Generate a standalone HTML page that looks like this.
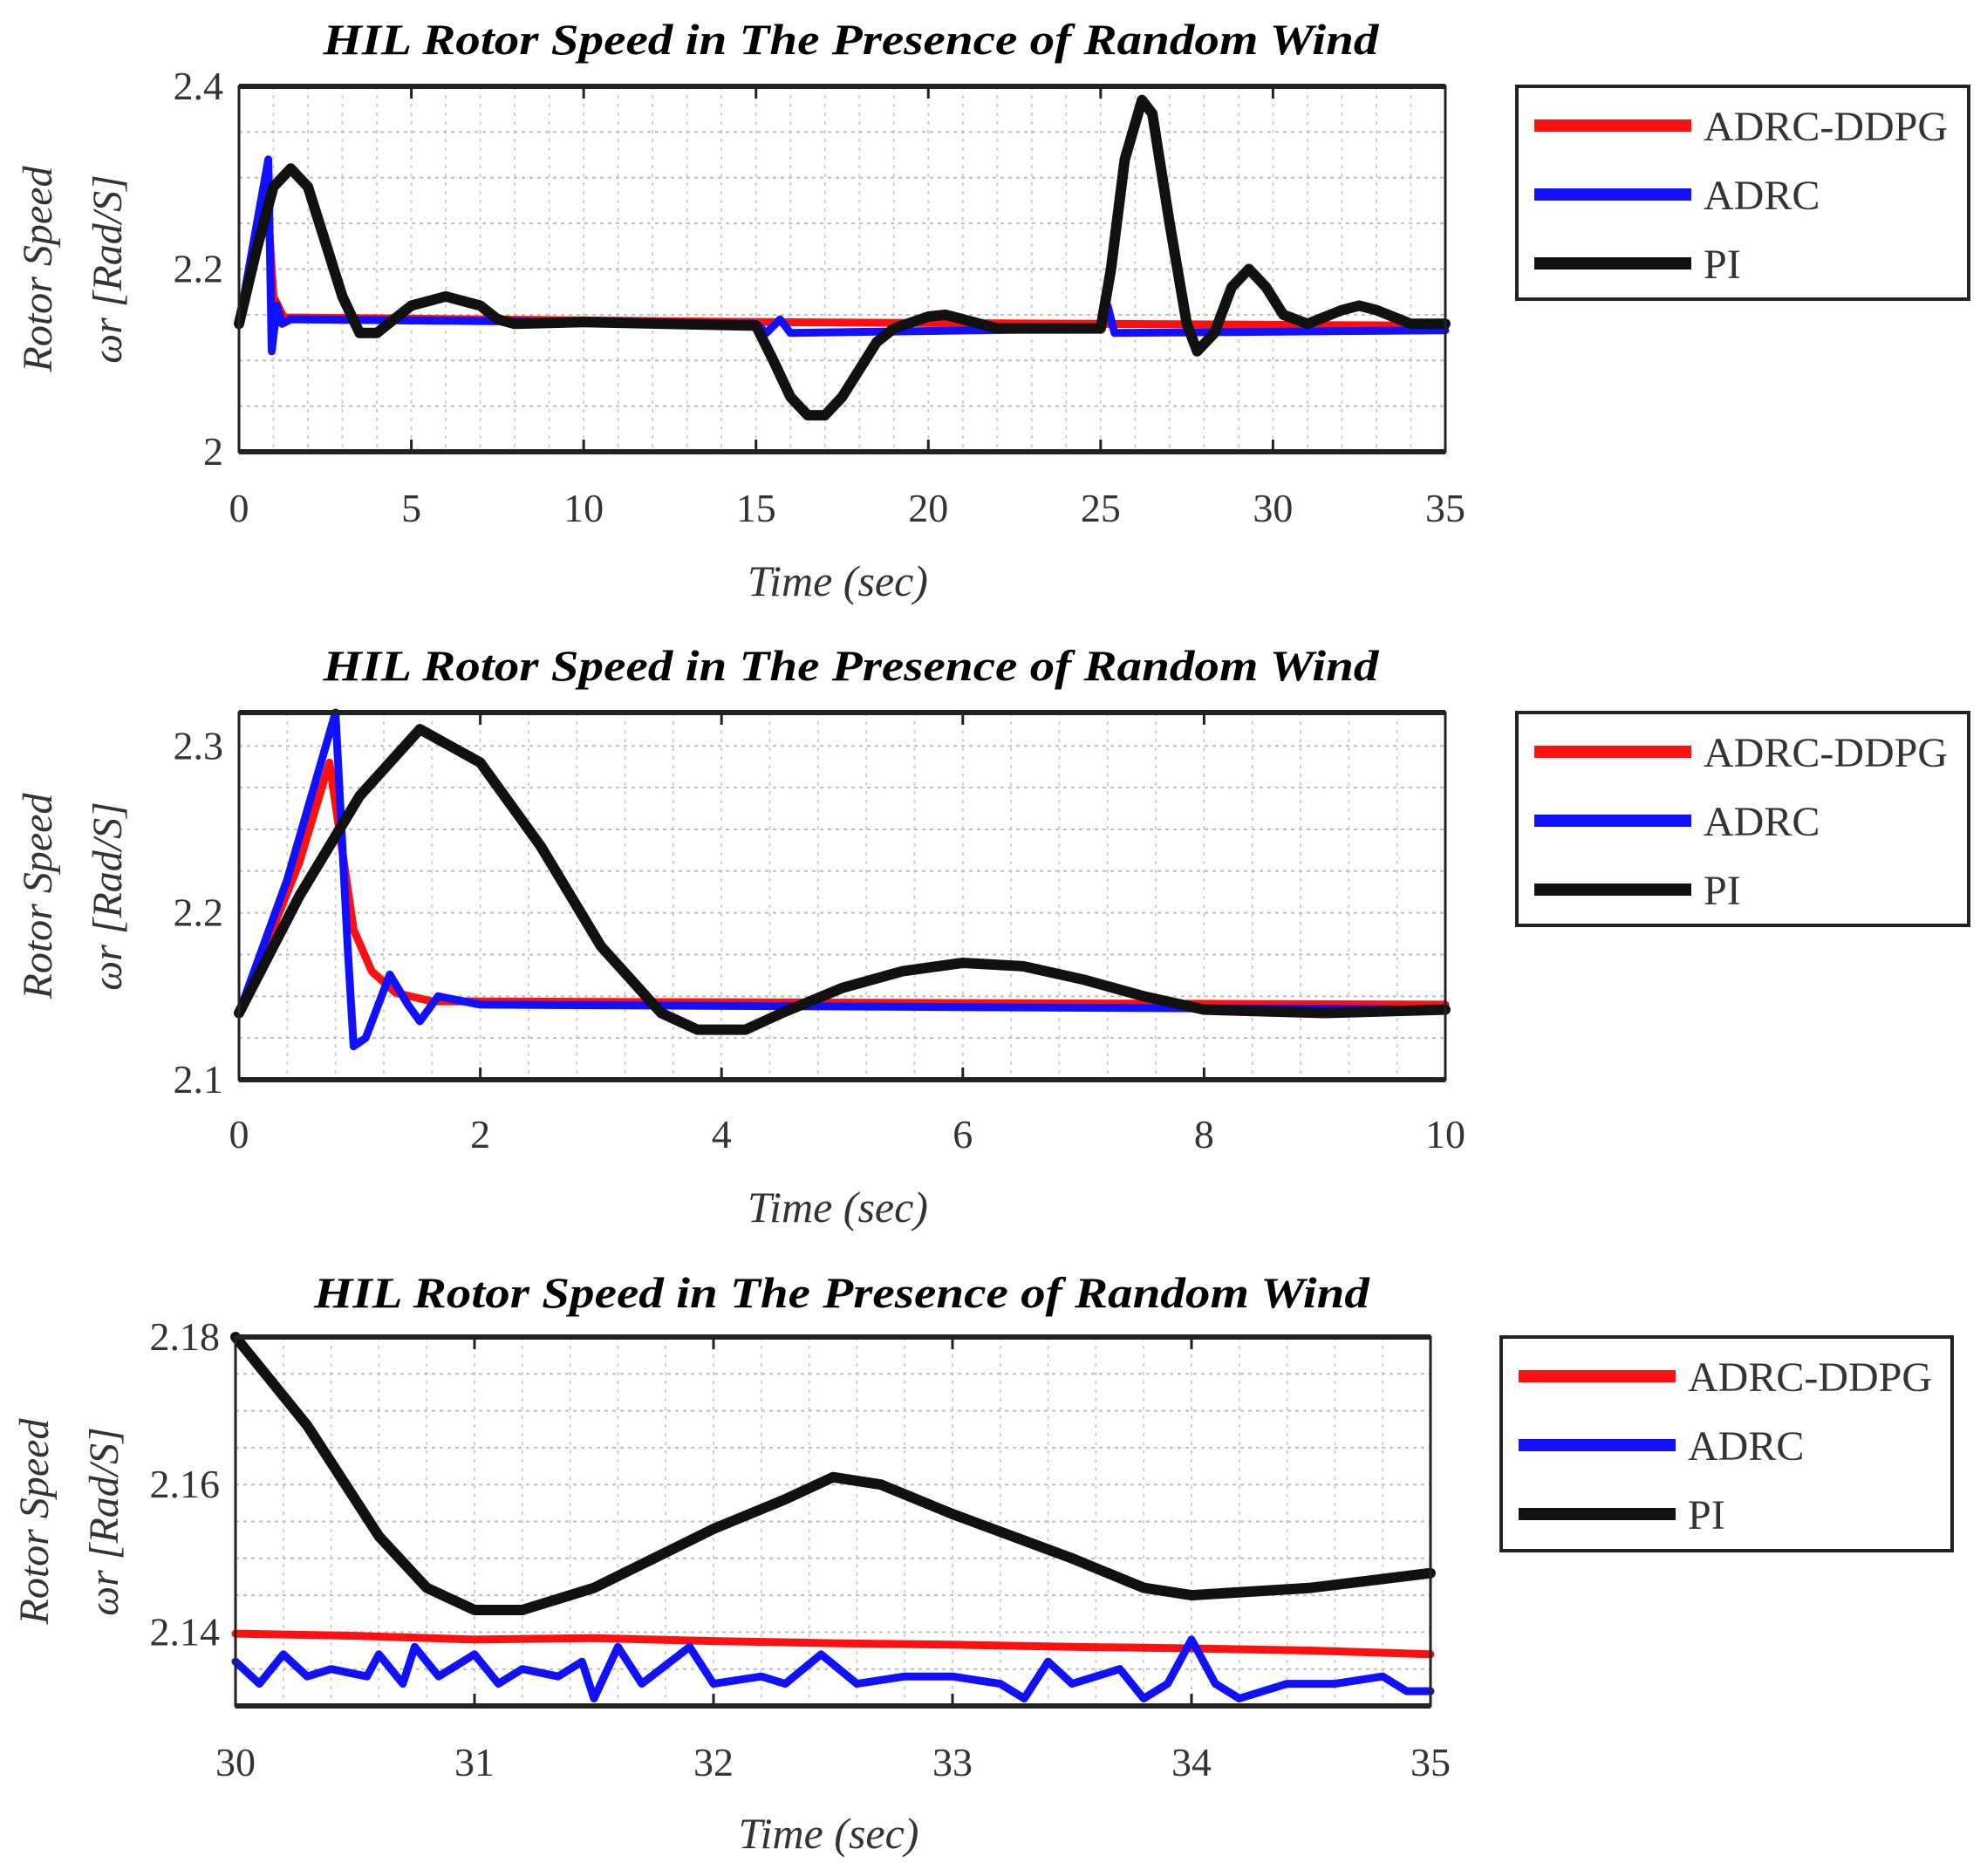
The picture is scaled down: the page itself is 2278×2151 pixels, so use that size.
<!DOCTYPE html>
<html><head><meta charset="utf-8"><style>
html,body{margin:0;padding:0;background:#fff;}
svg{display:block;font-family:"Liberation Serif",serif;}
</style></head><body>
<svg id="chart" width="2278" height="2151" viewBox="0 0 2278 2151" xmlns="http://www.w3.org/2000/svg"></svg>
<script>
// ---------- Panel 1 data ----------
const p1_xticks=[0,5,10,15,20,25,30,35];
const p1_yticks=[2,2.2,2.4];
const p1_pi_t=[0,0.5,1,1.5,2,2.5,3,3.5,4,4.5,5,6,7,7.5,8,10,15,15.5,16,16.5,17,17.5,18,18.5,19,20,20.5,21,22,25,25.3,25.7,26.2,26.5,27,27.5,27.8,28.3,28.8,29.3,29.8,30.3,31,32,32.5,33,34,35];
const p1_pi_v=[2.14,2.22,2.29,2.31,2.29,2.23,2.17,2.13,2.13,2.145,2.16,2.17,2.16,2.145,2.14,2.142,2.138,2.1,2.06,2.04,2.04,2.06,2.09,2.12,2.135,2.148,2.15,2.145,2.135,2.135,2.2,2.32,2.385,2.37,2.25,2.14,2.11,2.13,2.18,2.2,2.18,2.15,2.14,2.155,2.16,2.155,2.14,2.14];
const p1_ddpg_t=[0,0.8,1,1.3,15,35];
const p1_ddpg_v=[2.14,2.29,2.17,2.147,2.142,2.138];
const p1_adrc_t=[0,0.85,0.95,1.1,1.25,1.5,15,15.3,15.7,16,25,25.2,25.4,35];
const p1_adrc_v=[2.14,2.32,2.11,2.16,2.14,2.145,2.14,2.13,2.145,2.13,2.135,2.16,2.13,2.133];
// ---------- Panel 2 data ----------
const p2_xticks=[0,2,4,6,8,10];
const p2_yticks=[2.1,2.2,2.3];
const p2_pi_t=[0,0.5,1,1.5,2,2.5,3,3.5,3.8,4.2,4.5,5,5.5,6,6.5,7,7.5,8,9,10];
const p2_pi_v=[2.14,2.21,2.27,2.31,2.29,2.24,2.18,2.14,2.13,2.13,2.14,2.155,2.165,2.17,2.168,2.16,2.15,2.142,2.14,2.142];
const p2_ddpg_t=[0,0.5,0.75,0.85,0.95,1.1,1.3,1.6,10];
const p2_ddpg_v=[2.14,2.23,2.29,2.24,2.19,2.165,2.152,2.147,2.145];
const p2_adrc_t=[0,0.4,0.8,0.9,0.95,1.05,1.25,1.4,1.5,1.65,2,10];
const p2_adrc_v=[2.14,2.22,2.32,2.18,2.12,2.125,2.163,2.145,2.135,2.15,2.145,2.142];
// ---------- Panel 3 data ----------
const p3_xticks=[30,31,32,33,34,35];
const p3_yticks=[2.14,2.16,2.18];
const p3_pi_t=[30,30.3,30.6,30.8,31,31.2,31.5,32,32.3,32.5,32.7,33,33.5,33.8,34,34.5,35];
const p3_pi_v=[2.18,2.168,2.153,2.146,2.143,2.143,2.146,2.154,2.158,2.161,2.16,2.156,2.15,2.146,2.145,2.146,2.148];
const p3_ddpg_t=[30,30.5,31,31.5,32,32.5,33,33.5,34,34.5,35];
const p3_ddpg_v=[2.1398,2.1395,2.139,2.1392,2.1388,2.1385,2.1383,2.138,2.1378,2.1375,2.137];
const p3_adrc_t=[30,30.1,30.2,30.3,30.4,30.55,30.6,30.7,30.75,30.85,31,31.1,31.2,31.35,31.45,31.5,31.6,31.7,31.9,32,32.2,32.3,32.45,32.6,32.8,33,33.2,33.3,33.4,33.5,33.6,33.7,33.8,33.9,34,34.1,34.2,34.4,34.6,34.8,34.9,35];
const p3_adrc_v=[2.136,2.133,2.137,2.134,2.135,2.134,2.137,2.133,2.138,2.134,2.137,2.133,2.135,2.134,2.136,2.131,2.138,2.133,2.138,2.133,2.134,2.133,2.137,2.133,2.134,2.134,2.133,2.131,2.136,2.133,2.134,2.135,2.131,2.133,2.139,2.133,2.131,2.133,2.133,2.134,2.132,2.132];

const NS="http://www.w3.org/2000/svg";
const svg=document.getElementById('chart');
function mk(tag,attrs,parent){const e=document.createElementNS(NS,tag);for(const k in attrs)e.setAttribute(k,attrs[k]);(parent||svg).appendChild(e);return e;}

const panels=[
 {id:'p1',L:274,R:1657,T:99,B:518,xmin:0,xmax:35,ymin:2,ymax:2.4,xminor:1,yminor:0.05,xt:p1_xticks,yt:p1_yticks,
  pi:[p1_pi_t,p1_pi_v],dd:[p1_ddpg_t,p1_ddpg_v],ad:[p1_adrc_t,p1_adrc_v],titleY:62,tickY:598,xlabY:683,leg:{x:1739,y:99,w:518,h:244},fmt:v=>String(v)},
 {id:'p2',L:274,R:1657,T:817,B:1238,xmin:0,xmax:10,ymin:2.1,ymax:2.32,xminor:0.4,yminor:0.025,xt:p2_xticks,yt:p2_yticks,
  pi:[p2_pi_t,p2_pi_v],dd:[p2_ddpg_t,p2_ddpg_v],ad:[p2_adrc_t,p2_adrc_v],titleY:780,tickY:1316,xlabY:1401,leg:{x:1739,y:817,w:518,h:244},fmt:v=>v.toFixed(1)},
 {id:'p3',L:270,R:1640,T:1533,B:1956,xmin:30,xmax:35,ymin:2.13,ymax:2.18,xminor:0.2,yminor:0.005,xt:p3_xticks,yt:p3_yticks,
  pi:[p3_pi_t,p3_pi_v],dd:[p3_ddpg_t,p3_ddpg_v],ad:[p3_adrc_t,p3_adrc_v],titleY:1499,tickY:2036,xlabY:2119,leg:{x:1721,y:1533,w:517,h:245},fmt:v=>v.toFixed(2)}
];

panels.forEach(p=>{
 const g=mk('g',{});
 
 
 const X=v=>p.L+(v-p.xmin)/(p.xmax-p.xmin)*(p.R-p.L);
 const Y=v=>p.B-(v-p.ymin)/(p.ymax-p.ymin)*(p.B-p.T);
 const cx=(p.L+p.R)/2+10;
 const t=mk('text',{x:cx,y:p.titleY,'text-anchor':'middle','font-size':50,'font-weight':'bold','font-style':'italic',textLength:1210,lengthAdjust:'spacingAndGlyphs'},g);
 t.textContent='HIL Rotor Speed in The Presence of Random Wind';
 
 
 const eps=1e-9;
 for(let v=p.xmin+p.xminor;v<p.xmax-eps;v+=p.xminor){
  const l=mk('line',{x1:X(v),x2:X(v),y1:p.T,y2:p.B,stroke:'#cfcfcf','stroke-width':2,'stroke-dasharray':'4 6'},g);
  
  
 }
 for(let v=p.ymin+p.yminor;v<p.ymax-eps;v+=p.yminor){
  const l=mk('line',{x1:p.L,x2:p.R,y1:Y(v),y2:Y(v),stroke:'#bdbdbd','stroke-width':2,'stroke-dasharray':'4 5'},g);
  
  
 }
 const draw=(ser,color,w,name)=>{
  const pts=ser[0].map((tt,i)=>X(tt).toFixed(1)+','+Y(ser[1][i]).toFixed(1)).join(' ');
  const pl=mk('polyline',{points:pts,fill:'none',stroke:color,'stroke-width':w,'stroke-linejoin':'round','stroke-linecap':'round'},g);
  
  
 };
 draw(p.dd,'#ff1010',9,'series-adrc-ddpg');
 draw(p.ad,'#1010ff',9,'series-adrc');
 draw(p.pi,'#111',12,'series-pi');
 const bx=mk('rect',{x:p.L,y:p.T,width:p.R-p.L,height:p.B-p.T,fill:'none',stroke:'#222','stroke-width':3},g);
 
 
 mk('line',{x1:p.L,x2:p.R,y1:p.T,y2:p.T,stroke:'#222','stroke-width':6},g);
 mk('line',{x1:p.L,x2:p.R,y1:p.B,y2:p.B,stroke:'#222','stroke-width':6},g);
 p.xt.forEach(v=>{
  mk('line',{x1:X(v),x2:X(v),y1:p.B,y2:p.B-14,stroke:'#222','stroke-width':3},g);
  mk('line',{x1:X(v),x2:X(v),y1:p.T,y2:p.T+14,stroke:'#222','stroke-width':3},g);
  const tx=mk('text',{x:X(v),y:p.tickY,'text-anchor':'middle','font-size':46,fill:'#333'},g);
  tx.textContent=String(v);
  
  
 });
 p.yt.forEach(v=>{
  const ty=mk('text',{x:p.L-18,y:Y(v)+15,'text-anchor':'end','font-size':46,fill:'#333'},g);
  ty.textContent=p.fmt(v);
  
  
 });
 const xl=mk('text',{x:(p.L+p.R)/2-5,y:p.xlabY,'text-anchor':'middle','font-size':50,'font-style':'italic',fill:'#333'},g);
 xl.textContent='Time (sec)';
 
 
 const cy=(p.T+p.B)/2;
 const yl1=mk('text',{x:0,y:0,'text-anchor':'middle','font-size':48,'font-style':'italic',fill:'#333',transform:`translate(${p.L-215},${cy}) rotate(-90)`},g);
 yl1.textContent='Rotor Speed';
 
 
 const yl2=mk('text',{x:0,y:0,'text-anchor':'middle','font-size':48,'font-style':'italic',fill:'#333',transform:`translate(${p.L-135},${cy}) rotate(-90)`},g);
 yl2.textContent='ωr [Rad/S]';
 
 
 const lg=mk('g',{},g);
 
 
 const L=p.leg;
 mk('rect',{x:L.x,y:L.y,width:L.w,height:L.h,fill:'#fff',stroke:'#222','stroke-width':4},lg);
 const items=[['ADRC-DDPG','#ff1010'],['ADRC','#1010ff'],['PI','#111']];
 items.forEach((it,i)=>{
  const yy=L.y+45+i*79;
  const ln=mk('line',{x1:L.x+20,x2:L.x+200,y1:yy,y2:yy,stroke:it[1],'stroke-width':14},lg);
  
  
  const tx=mk('text',{x:L.x+214,y:yy+17,'font-size':48,fill:'#333'},lg);
  tx.textContent=it[0];
  
  
 });
});
</script>
</body></html>
